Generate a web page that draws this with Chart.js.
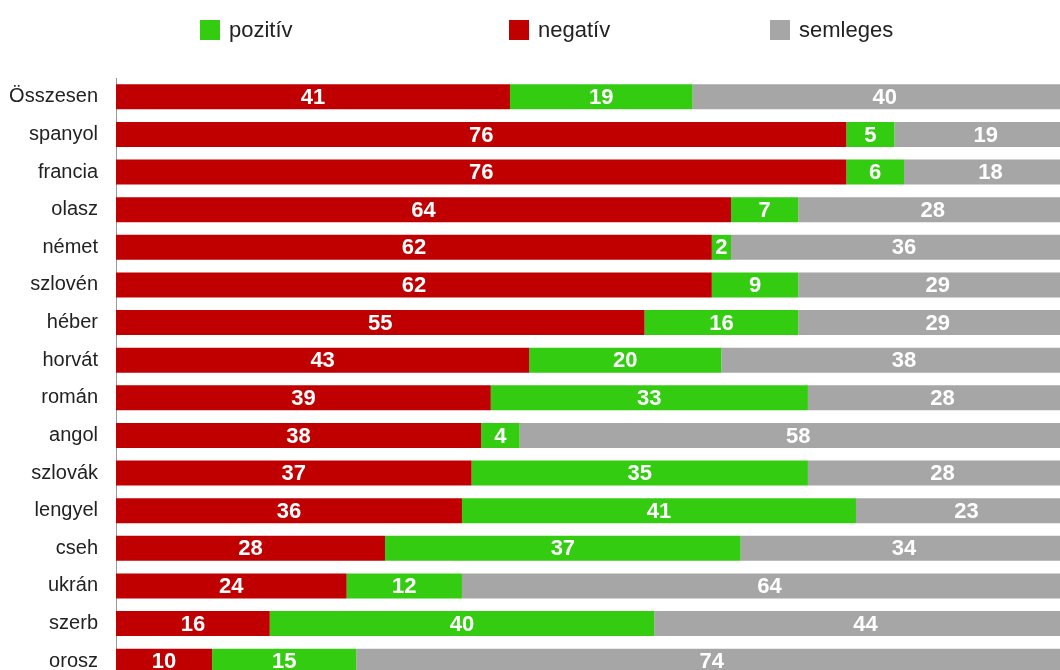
<!DOCTYPE html>
<html>
<head>
<meta charset="utf-8">
<script src="https://cdn.jsdelivr.net/npm/chart.js@4.4.1/dist/chart.umd.min.js"></script>
<style>
    html, body { margin: 0; padding: 0; background: #fff; overflow: hidden; }
    #wrap { position: relative; width: 1094px; height: 710px; }
    #legend { position: absolute; left: 0; top: 0; width: 1094px; height: 60px;
              font-family: "Liberation Sans", Arial, sans-serif; font-size: 22px; color: #222; }
    .item { position: absolute; top: 18px; height: 24px; line-height: 24px; white-space: nowrap; }
    .box { display: inline-block; width: 20px; height: 20px; vertical-align: top; margin-top: 2px; margin-right: 9px; }
</style>
</head>
<body>
<div id="wrap">
    <canvas id="chart" width="1094" height="710"></canvas>
    <div id="legend"></div>
</div>
<script>
// Data.
const labels = ['Összesen', 'spanyol', 'francia', 'olasz', 'német', 'szlovén', 'héber', 'horvát',
    'román', 'angol', 'szlovák', 'lengyel', 'cseh', 'ukrán', 'szerb', 'orosz'];
const negativ = [41, 76, 76, 64, 62, 62, 55, 43, 39, 38, 37, 36, 28, 24, 16, 10];
const pozitiv = [19, 5, 6, 7, 2, 9, 16, 20, 33, 4, 35, 41, 37, 12, 40, 15];
const semleges = [40, 19, 18, 28, 36, 29, 29, 38, 28, 58, 28, 23, 34, 64, 44, 74];

const RED = '#c00000', GREEN = '#33cc11', GREY = '#a6a6a6';

// Legend (order as in the original: pozitív, negatív, semleges).
const legend_items = [
    { text: 'pozitív', color: GREEN, left: 200 },
    { text: 'negatív', color: RED, left: 509 },
    { text: 'semleges', color: GREY, left: 770 },
];
const legend = document.getElementById('legend');
legend_items.forEach((e) => {
    const div = document.createElement('div');
    div.className = 'item';
    div.style.left = e.left + 'px';
    div.innerHTML = '<span class="box" style="background:' + e.color + '"></span>' + e.text;
    legend.appendChild(div);
});

// Values inside the bar segments.
const valueLabels = {
    id: 'valueLabels',
    afterDatasetsDraw(chart) {
        const ctx = chart.ctx;
        ctx.save();
        ctx.font = 'bold 22px "Liberation Sans", Arial, sans-serif';
        ctx.fillStyle = '#ffffff';
        ctx.textAlign = 'center';
        ctx.textBaseline = 'middle';
        chart.data.datasets.forEach((ds, i) => {
            chart.getDatasetMeta(i).data.forEach((bar, j) => {
                const v = ds.data[j];
                if (!v) return;
                const p = bar.getProps(['x', 'y', 'base'], true);
                ctx.fillText(String(v), (p.x + p.base) / 2, p.y + 1);
            });
        });
        ctx.restore();
    }
};

new Chart(document.getElementById('chart'), {
    type: 'bar',
    data: {
        labels: labels,
        datasets: [
            { label: 'negatív', data: negativ, backgroundColor: RED },
            { label: 'pozitív', data: pozitiv, backgroundColor: GREEN },
            { label: 'semleges', data: semleges, backgroundColor: GREY },
        ]
    },
    options: {
        indexAxis: 'y',
        responsive: false,
        animation: false,
        layout: { padding: { top: 78, left: 9, right: 17, bottom: 0 } },
        datasets: { bar: { categoryPercentage: 1, barPercentage: 0.665, borderWidth: 0 } },
        scales: {
            x: { stacked: true, min: 0, max: 100, display: false },
            y: {
                stacked: true,
                afterFit(scale) { scale.width = 107; },
                grid: { display: false, drawTicks: false },
                border: { display: true, color: '#999999', width: 1 },
                ticks: {
                    padding: 18,
                    color: '#222222',
                    font: { family: '"Liberation Sans", Arial, sans-serif', size: 20 }
                }
            }
        },
        plugins: {
            legend: { display: false },
            tooltip: { enabled: false }
        }
    },
    plugins: [valueLabels]
});
</script>
</body>
</html>
